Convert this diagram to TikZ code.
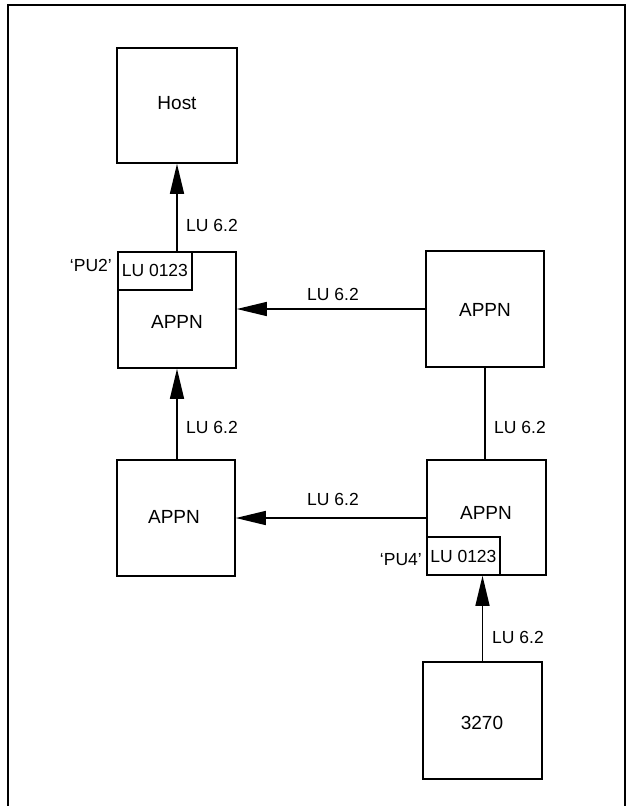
\documentclass[tikz,border=0pt]{standalone}
\usepackage{fontspec}
\setmainfont{Liberation Sans}
\usetikzlibrary{arrows.meta}
\begin{document}
\begin{tikzpicture}[x=1pt,y=-1pt,
  box/.style={draw,line width=1.6pt,minimum width=#1,minimum height=116pt,inner sep=0pt},
  box/.default=118pt,
  lubox/.style={draw,line width=1.4pt,minimum width=74pt,minimum height=38pt,inner sep=0pt,font=\fontsize{17.5}{20}\selectfont},
  big/.style={font=\fontsize{19}{22}\selectfont,inner sep=0pt},
  lbl/.style={font=\fontsize{17.5}{20}\selectfont,inner sep=0pt},
  conn/.style={line width=1.5pt},
  arr/.style={conn,-{Triangle[length=30pt,width=14pt]}}]
\useasboundingbox (0,0) rectangle (629,806);
\fill[white] (0,0) rectangle (629,806);
% frame
\coordinate (f1) at (8,830);
\coordinate (f2) at (8,5);
\coordinate (f3) at (625,5);
\coordinate (f4) at (625,830);
\draw[line width=2pt] (f1) -- (f2) -- (f3) -- (f4);
% nodes
\node[box=120pt,minimum height=115pt] (host) at (177,105.5) {};
\node[big] at (177,103) {Host};
\node[box] (pu2) at (177,310) {};
\node[big] at (177,322) {APPN};
\node[lubox,anchor=north west] (lu2) at (pu2.north west) {LU 0123};
\node[lbl,anchor=east] (pu2lab) at (112,265) {‘PU2’};
\node[box] (ra) at (485,309) {};
\node[big] at (485,310) {APPN};
\node[box] (la) at (176,518) {};
\node[big] at (174,517) {APPN};
\node[box=119pt,minimum height=115pt] (pu4) at (486.5,517.5) {};
\node[big] at (486,513) {APPN};
\node[lubox,minimum width=73pt,anchor=south west] (lu4) at (pu4.south west) {LU 0123};
\node[lbl,anchor=east] (pu4lab) at (422,560) {‘PU4’};
\node[box=119pt,minimum height=117pt] (t3270) at (482.5,720.5) {};
\node[big] at (482,723) {3270};
% connectors
\draw[arr] (pu2.north) -- (host.south);
\draw[arr] (ra.west) -- (pu2.east |- ra.west);
\draw[arr] (la.north -| pu2.south) -- (pu2.south);
\draw[conn] (ra.south) -- (ra.south |- pu4.north);
\draw[arr] (pu4.west |- la.east) -- (la.east);
\draw[arr] (t3270.north) -- (t3270.north |- pu4.south);
% labels
\node[lbl,anchor=west] at (186,225) {LU 6.2};
\node[lbl] at (333,294) {LU 6.2};
\node[lbl,anchor=west] at (186,427) {LU 6.2};
\node[lbl,anchor=west] at (494,427) {LU 6.2};
\node[lbl] at (333,499) {LU 6.2};
\node[lbl,anchor=west] at (492,637) {LU 6.2};
\end{tikzpicture}
\end{document}
